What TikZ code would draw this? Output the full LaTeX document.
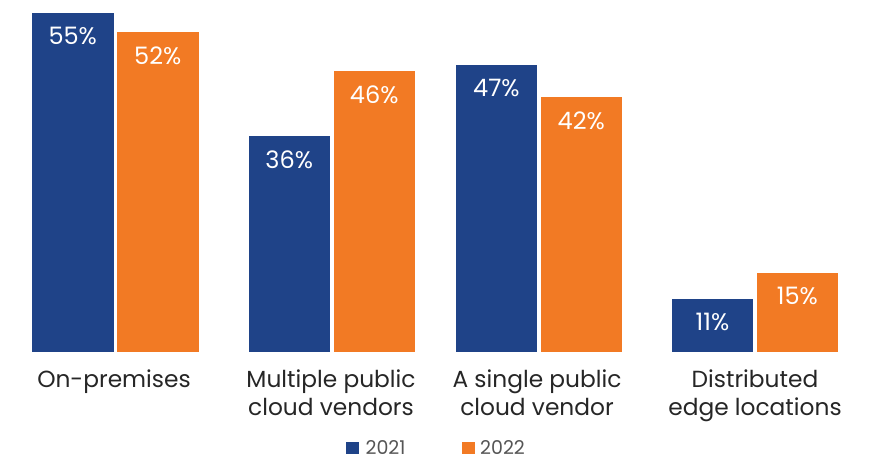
\documentclass[tikz,border=0pt]{standalone}
\usepackage{fontspec}
\setmainfont{Poppins}
\usepackage{tikz}
\usetikzlibrary{positioning}
\definecolor{blueA}{HTML}{1F4388}
\definecolor{orangeB}{HTML}{F27A24}
\definecolor{labelgray}{HTML}{262626}
\definecolor{keygray}{HTML}{555555}
\tikzstyle{bar}=[anchor=south west,inner sep=0pt,outer sep=0pt,minimum width=81.5pt]
\tikzstyle{yearA}=[bar,fill=blueA]
\tikzstyle{yearB}=[bar,fill=orangeB]
\tikzstyle{pct}=[text=white,font=\fontsize{24}{24}\selectfont,inner sep=0pt]
\tikzstyle{category}=[align=center,text=labelgray,font=\fontsize{23.3}{28}\selectfont,anchor=north,inner sep=0pt]

\begin{document}
\begin{tikzpicture}[x=1pt,y=-1pt]
\tikzstyle{key}=[minimum width=13pt,minimum height=12pt,inner sep=0pt]
\tikzstyle{keytext}=[text=keygray,font=\fontsize{19}{19}\selectfont,inner sep=0pt]
\useasboundingbox (0,0) rectangle (878,457);

\node (A1) [yearA,minimum height=339.3pt] at (32,352.3) {};
\node (B1) [yearB,minimum height=319.8pt] at (117,352.3) {};
\node (A2) [yearA,minimum height=215.8pt] at (248.5,352.3) {};
\node (B2) [yearB,minimum height=280.8pt] at (333.5,352.3) {};
\node (A3) [yearA,minimum height=287.3pt] at (455.7,352.3) {};
\node (B3) [yearB,minimum height=254.8pt] at (540.5,352.3) {};
\node (A4) [yearA,minimum height=53pt] at (671.7,352.3) {};
\node (B4) [yearB,minimum height=79pt] at (756.7,352.3) {};

\node (pA1) [pct,below=14pt of A1.north] {55\%};
\node (pB1) [pct,below=14pt of B1.north] {52\%};
\node (pA2) [pct,below=14pt of A2.north] {36\%};
\node (pB2) [pct,below=14pt of B2.north] {46\%};
\node (pA3) [pct,below=14pt of A3.north] {47\%};
\node (pB3) [pct,below=14pt of B3.north] {42\%};
\node (pA4) [pct,below=14pt of A4.north] {11\%};
\node (pB4) [pct,below=14pt of B4.north] {15\%};

\node (C1) [category] at (114,369.5) {On-premises};
\node (C2) [category] at (331,369.5) {Multiple public\\cloud vendors};
\node (C3) [category] at (537,369.5) {A single public\\cloud vendor};
\node (C4) [category] at (755,369.5) {Distributed\\edge locations};

\node (K1) [key,fill=blueA] at (352.7,447.8) {};
\node (T1) [keytext,right=6pt of K1] {2021};
\node (K2) [key,fill=orangeB] at (468.3,447.8) {};
\node (T2) [keytext,right=5pt of K2] {2022};
\end{tikzpicture}
\end{document}
